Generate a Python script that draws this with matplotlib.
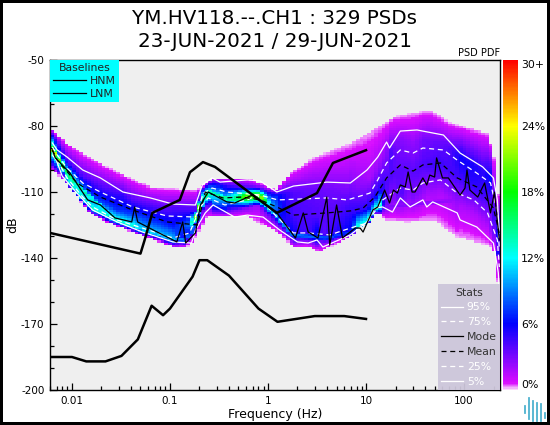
import numpy as np
import matplotlib
matplotlib.use("Agg")
import matplotlib.pyplot as plt
from matplotlib.colors import LinearSegmentedColormap
from matplotlib.lines import Line2D
from matplotlib.ticker import LogLocator, NullFormatter

plt.rcParams["axes.unicode_minus"] = False

# All curves: log10(frequency in Hz) and dB
p95_logf = [-2.20,-2.15,-2.05,-1.89,-1.71,-1.48,-1.20,-0.97,-0.74,-0.67,-0.57,-0.49,-0.21,-0.08,0.09,0.26,0.60,0.84,1.01,1.12,1.21,1.24,1.35,1.52,1.79,1.96,2.19,2.30,2.34,2.36]
p95_db = [-87.7,-90.9,-94.1,-100,-103.6,-110,-112.7,-115.5,-115.9,-106.8,-103.6,-105.5,-104.5,-105,-110,-107.3,-105.5,-105.9,-100,-94.1,-87.3,-90,-82.3,-81.8,-84.1,-92.3,-98.6,-103.6,-113.6,-128.6]

p75_logf = [-2.20,-2.15,-2.05,-1.89,-1.71,-1.38,-1.03,-0.74,-0.66,-0.57,-0.42,-0.08,0.10,0.60,0.81,1.04,1.12,1.21,1.35,1.48,1.58,1.79,1.93,2.13,2.27,2.34,2.36]
p75_db = [-89.5,-93.2,-99.1,-105.9,-110,-116.8,-120.9,-121.4,-110.5,-108.2,-110,-111.4,-113.6,-112.7,-113.6,-110.5,-104.5,-96.8,-90.9,-92.3,-90,-90.9,-95.5,-101.4,-105.9,-119.5,-136.4]

p25_logf = [-2.20,-2.15,-2.05,-1.89,-1.79,-1.54,-1.28,-0.97,-0.80,-0.69,-0.61,-0.44,-0.21,-0.11,0.05,0.26,0.41,0.63,0.84,1.01,1.17,1.35,1.48,1.58,1.76,1.93,2.10,2.24,2.34,2.36]
p25_db = [-91.8,-95.5,-103.6,-112.3,-116.8,-122.7,-126.4,-130.9,-128.6,-116.8,-112.7,-115.9,-113.6,-111.4,-119.5,-128.6,-128.6,-129.5,-126.4,-124.1,-113.6,-108.2,-109.1,-105.9,-104.5,-110.5,-113.6,-119.5,-131.8,-144.1]

p05_logf = [-2.20,-2.16,-2.10,-1.95,-1.79,-1.54,-1.28,-0.97,-0.78,-0.74,-0.64,-0.56,-0.34,-0.21,-0.05,0.12,0.30,0.41,0.50,0.56,0.84,1.01,1.09,1.17,1.27,1.35,1.45,1.58,1.62,1.68,1.93,1.96,2.13,2.30,2.35,2.36]
p05_db = [-93.2,-95.5,-102.7,-110.5,-118.2,-123.6,-128.2,-132.7,-133.2,-127.3,-119.5,-115.9,-121.4,-120.5,-121.4,-127.3,-132.7,-133.2,-131.8,-135,-129.5,-123.6,-117.3,-116.8,-119.1,-112.7,-116.8,-113.6,-116.8,-114.5,-119.5,-122.7,-125.9,-133.2,-146.8,-155.9]

mean_logf = [-2.20,-2.15,-1.95,-1.71,-1.38,-1.03,-0.72,-0.64,-0.46,-0.26,-0.08,0.09,0.26,0.60,0.84,0.97,1.09,1.21,1.35,1.48,1.58,1.76,1.93,2.13,2.30,2.36]
mean_db = [-90.9,-95.5,-105.9,-112.3,-118.2,-123.6,-125,-110,-112.7,-112.3,-113.6,-116.8,-120.5,-119.5,-118.6,-117.3,-112.3,-103.6,-97.7,-100.5,-97.7,-96.8,-103.6,-107.7,-117.3,-128.6]

mode_logf = [-2.20,-2.17,-2.02,-1.84,-1.71,-1.56,-1.39,-1.36,-1.33,-1.13,-0.93,-0.87,-0.84,-0.74,-0.69,-0.61,-0.42,-0.34,-0.16,0.09,0.28,0.36,0.41,0.51,0.60,0.63,0.70,0.76,0.89,0.94,0.97,1.07,1.12,1.19,1.24,1.28,1.32,1.35,1.40,1.43,1.47,1.50,1.58,1.62,1.65,1.70,1.72,1.78,1.84,1.96,2.01,2.03,2.06,2.14,2.21,2.27,2.31,2.36]
mode_db = [-90.9,-94.5,-101.4,-113.6,-115.9,-121.8,-123.6,-116.8,-123.6,-128.2,-132.7,-123.6,-133.2,-128.6,-115.9,-110,-114.5,-115,-111.4,-119.5,-130.9,-119.5,-128.2,-130.9,-112.3,-134.1,-115.9,-130.9,-126.4,-126.4,-128.2,-118.2,-116.8,-109.1,-115,-109.1,-110.5,-106.8,-107.7,-100.9,-110,-110,-103.6,-106.8,-102.3,-103.2,-94.5,-103.6,-103.6,-111.4,-108.2,-100,-109.1,-112.3,-105.9,-119.5,-110,-131.8]

# Outer limits of the coloured PDF cloud
top_logf = [-2.22,-2.20,-2.05,-1.82,-1.54,-1.20,-0.72,-0.56,-0.21,0.09,0.22,0.46,0.87,1.07,1.28,1.48,1.65,1.86,2.23,2.30,2.35,2.37]
top_db = [-80.9,-81.8,-87.7,-94.1,-100.9,-107.7,-109.1,-103.6,-103.6,-109.1,-101.4,-94.5,-87.3,-81.8,-75.9,-74.1,-72.7,-78.6,-83.2,-90.9,-113.6,-140.9]
bot_logf = [-2.22,-2.20,-2.10,-1.92,-1.82,-1.62,-1.24,-0.93,-0.83,-0.77,-0.62,-0.37,-0.21,0.12,0.26,0.40,0.53,0.81,1.02,1.11,1.21,1.42,1.69,1.93,2.30,2.35,2.37]
bot_db = [-100,-100,-103.6,-113.6,-119.5,-124.1,-130.5,-135.5,-135,-133.2,-121.4,-121.4,-121.4,-128.6,-135.5,-135,-137.3,-130.9,-124.1,-119.5,-122.7,-123.6,-122.7,-130.5,-135,-153.2,-155.5]

# Brightest ridge of the PDF: position and probability (%)
ridge_logf = [-2.22,-2.18,-2.12,-2.00,-1.85,-1.60,-1.30,-1.00,-0.85,-0.72,-0.62,-0.46,-0.32,-0.15,0.05,0.25,0.60,0.84,1.00,1.20,2.25,2.33,2.36]
ridge_db = [-90.5,-91.5,-97,-104,-111,-120.5,-126.5,-131,-132,-125,-109,-112.7,-113.6,-111.4,-119,-129.5,-131,-128,-124,-117,-112,-130,-146]
ridge_pct = [24,24,18,16,14,12,11,10,9,8,13,15,15,14,11,9,8,7,6,3,2,4,7]

# Baselines
hnm_freq = [0.00597,0.05,0.055,0.066,0.126,0.16,0.217,0.288,1.23,3.16,4.6,10]
hnm_db = [-128.6,-138,-132,-119.5,-113.6,-101,-96.4,-98.6,-119.5,-110.5,-96.8,-91]
lnm_freq = [0.00597,0.01,0.014,0.022,0.032,0.047,0.065,0.085,0.1,0.17,0.2,0.24,0.4,0.8,1.25,3,6,10]
lnm_db = [-185,-185,-187,-187,-184.5,-177,-161.7,-166,-163,-148.5,-141,-141,-148,-163,-169,-166.4,-166.4,-167.7]

title_lines = "YM.HV118.--.CH1 : 329 PSDs\n23-JUN-2021 / 29-JUN-2021"
x_ticks = [0.01, 0.1, 1, 10, 100]
x_ticklabels = ["0.01", "0.1", "1", "10", "100"]
y_ticks = [-200, -170, -140, -110, -80, -50]
cbar_ticks = [0, 6, 12, 18, 24, 30]
cbar_labels = ["0%", "6%", "12%", "18%", "24%", "30+"]
logo_low = [10, 4, 2, 2, 2, 5]
logo_high = [18, 26, 23, 21, 20, 11]

W, H = 550, 425
fig = plt.figure(figsize=(W/100, H/100), dpi=100, linewidth=4, edgecolor="black", facecolor="white")
ax = fig.add_axes([50/W, 1-390/H, 450/W, 330/H], facecolor="#efefef")

# PDF grid, derived from the percentile curves read above
col_edges = np.arange(-2.224, 2.40, 0.0376)
col_mid = (col_edges[:-1] + col_edges[1:]) / 2
db_edges = np.arange(-200, -49, 1.0)
db_mid = (db_edges[:-1] + db_edges[1:]) / 2
pdf = np.full((db_mid.size, col_mid.size), np.nan)
for j, lf in enumerate(col_mid):
    if lf > 2.365:
        continue
    b = np.interp(lf, bot_logf, bot_db)
    t = np.interp(lf, top_logf, top_db)
    a5 = np.interp(lf, p05_logf, p05_db)
    a25 = np.interp(lf, p25_logf, p25_db)
    a75 = np.interp(lf, p75_logf, p75_db)
    a95 = np.interp(lf, p95_logf, p95_db)
    lv = [b, (a5+a25)/2, (a25+a75)/2, (a75+a95)/2, t]
    dens = [0.2, 20/max(a25-a5, 1.5), 65/max(a75-a25, 3), 24/max(a95-a75, 1.5), 0.2]
    lv, dens = zip(*sorted(zip(lv, dens)))
    col = np.interp(db_mid, lv, dens)
    rd = np.interp(lf, ridge_logf, ridge_db)
    rp = np.interp(lf, ridge_logf, ridge_pct)
    col = np.maximum(col, rp*np.exp(-0.5*((db_mid-rd)/1.3)**2))
    col[(db_mid < b) | (db_mid > t)] = np.nan
    pdf[:, j] = col

cmap = LinearSegmentedColormap.from_list("pqlx", [
    (0.0, (0.98, 0.85, 0.99)), (0.02, (0.85, 0.05, 1.0)), (0.2, (0, 0, 1)),
    (0.4, (0, 1, 1)), (0.6, (0, 1, 0)), (0.8, (1, 1, 0)), (1.0, (1, 0, 0))])
mesh = ax.pcolormesh(10**col_edges, db_edges, np.ma.masked_invalid(pdf), cmap=cmap,
                     vmin=0, vmax=30, shading="flat", zorder=1)

# Stats lines
ax.plot(10**np.array(p95_logf), p95_db, color="white", lw=0.9, zorder=3)
ax.plot(10**np.array(p75_logf), p75_db, color="white", lw=0.9, ls=(0, (4, 3)), zorder=3)
ax.plot(10**np.array(p25_logf), p25_db, color="white", lw=0.9, ls=(0, (4, 3)), zorder=3)
ax.plot(10**np.array(p05_logf), p05_db, color="white", lw=0.9, zorder=3)
ax.plot(10**np.array(mean_logf), mean_db, color="black", lw=0.9, ls=(0, (4, 3)), zorder=4)
ax.plot(10**np.array(mode_logf), mode_db, color="black", lw=0.9, zorder=4)
ax.plot(hnm_freq, hnm_db, color="black", lw=1.8, zorder=5)
ax.plot(lnm_freq, lnm_db, color="black", lw=1.8, zorder=5)

ax.set_xscale("log")
ax.set_xlim(10**-2.224, 10**2.367)
ax.set_ylim(-200, -50)
ax.set_xticks(x_ticks)
ax.set_xticklabels(x_ticklabels)
ax.xaxis.set_minor_locator(LogLocator(base=10, subs=np.arange(2, 10), numticks=20))
ax.xaxis.set_minor_formatter(NullFormatter())
ax.set_yticks(y_ticks)
ax.set_yticks(np.arange(-200, -49, 10), minor=True)
ax.tick_params(axis="both", which="major", direction="in", length=5, width=0.9, labelsize=7.5, pad=4)
ax.tick_params(axis="both", which="minor", direction="in", length=3, width=0.9)
ax.set_xlabel("Frequency (Hz)", fontsize=9, labelpad=2)
ax.set_ylabel("dB", fontsize=9)
ax.yaxis.set_label_coords(-31/450, 0.5)
for s in ax.spines.values():
    s.set_linewidth(1.0)

base = ax.legend(handles=[Line2D([], [], color="black", lw=0.9, label="HNM"),
                          Line2D([], [], color="black", lw=0.9, label="LNM")],
                 title="Baselines", loc="upper left", bbox_to_anchor=(0, 1), borderaxespad=0,
                 fontsize=7.8, title_fontsize=7.8, facecolor="#00ffff", framealpha=1, edgecolor="none",
                 fancybox=False, handlelength=3.0, handletextpad=0.4, labelspacing=0.25, borderpad=0.3,
                 labelcolor="#222222")
base.get_title().set_color("#222222")
base.set_zorder(6)
ax.add_artist(base)

stat = ax.legend(handles=[Line2D([], [], color="white", lw=0.9, label="95%"),
                          Line2D([], [], color="white", lw=0.9, ls=(0, (4, 3)), label="75%"),
                          Line2D([], [], color="black", lw=0.9, label="Mode"),
                          Line2D([], [], color="black", lw=0.9, ls=(0, (4, 3)), label="Mean"),
                          Line2D([], [], color="white", lw=0.9, ls=(0, (4, 3)), label="25%"),
                          Line2D([], [], color="white", lw=0.9, label="5%")],
                 title="Stats", loc="lower right", bbox_to_anchor=(1, 0), borderaxespad=0,
                 fontsize=7.8, title_fontsize=7.8, facecolor="#cdc6da", framealpha=0.95, edgecolor="none",
                 fancybox=False, handlelength=2.0, handletextpad=0.35, labelspacing=0.45, borderpad=0.3)
for txt, c in zip(stat.get_texts(), ["white", "white", "#333333", "#333333", "white", "white"]):
    txt.set_color(c)
stat.get_title().set_color("#333333")
stat.set_zorder(6)

# Colour bar
cax = fig.add_axes([503/W, 1-390/H, 15/W, 330/H])
cb = fig.colorbar(mesh, cax=cax)
cb.outline.set_visible(False)
cb.set_ticks(cbar_ticks)
cb.set_ticklabels(cbar_labels)
cb.ax.tick_params(length=0, pad=2, labelsize=7.8)
labs = cb.ax.get_yticklabels()
labs[0].set_va("bottom")
labs[-1].set_va("top")

fig.text(275/W, 1-30/H, title_lines, ha="center", va="center", fontsize=14.3, linespacing=1.25, color="black")
fig.text(500/W, 1-53/H, "PSD PDF", ha="right", va="center", fontsize=7, color="black")

# Logo
lax = fig.add_axes([522/W, 1-423/H, 25/W, 28/H])
lax.axis("off")
for i, (lo, hi) in enumerate(zip(logo_low, logo_high)):
    lax.bar(i, hi-lo, bottom=lo, width=0.45, facecolor="#e4f5f9", edgecolor="#5ab7d2", linewidth=0.7)
lax.set_xlim(-0.6, 5.6)
lax.set_ylim(0, 28)

fig.savefig("out.png", dpi=100)
